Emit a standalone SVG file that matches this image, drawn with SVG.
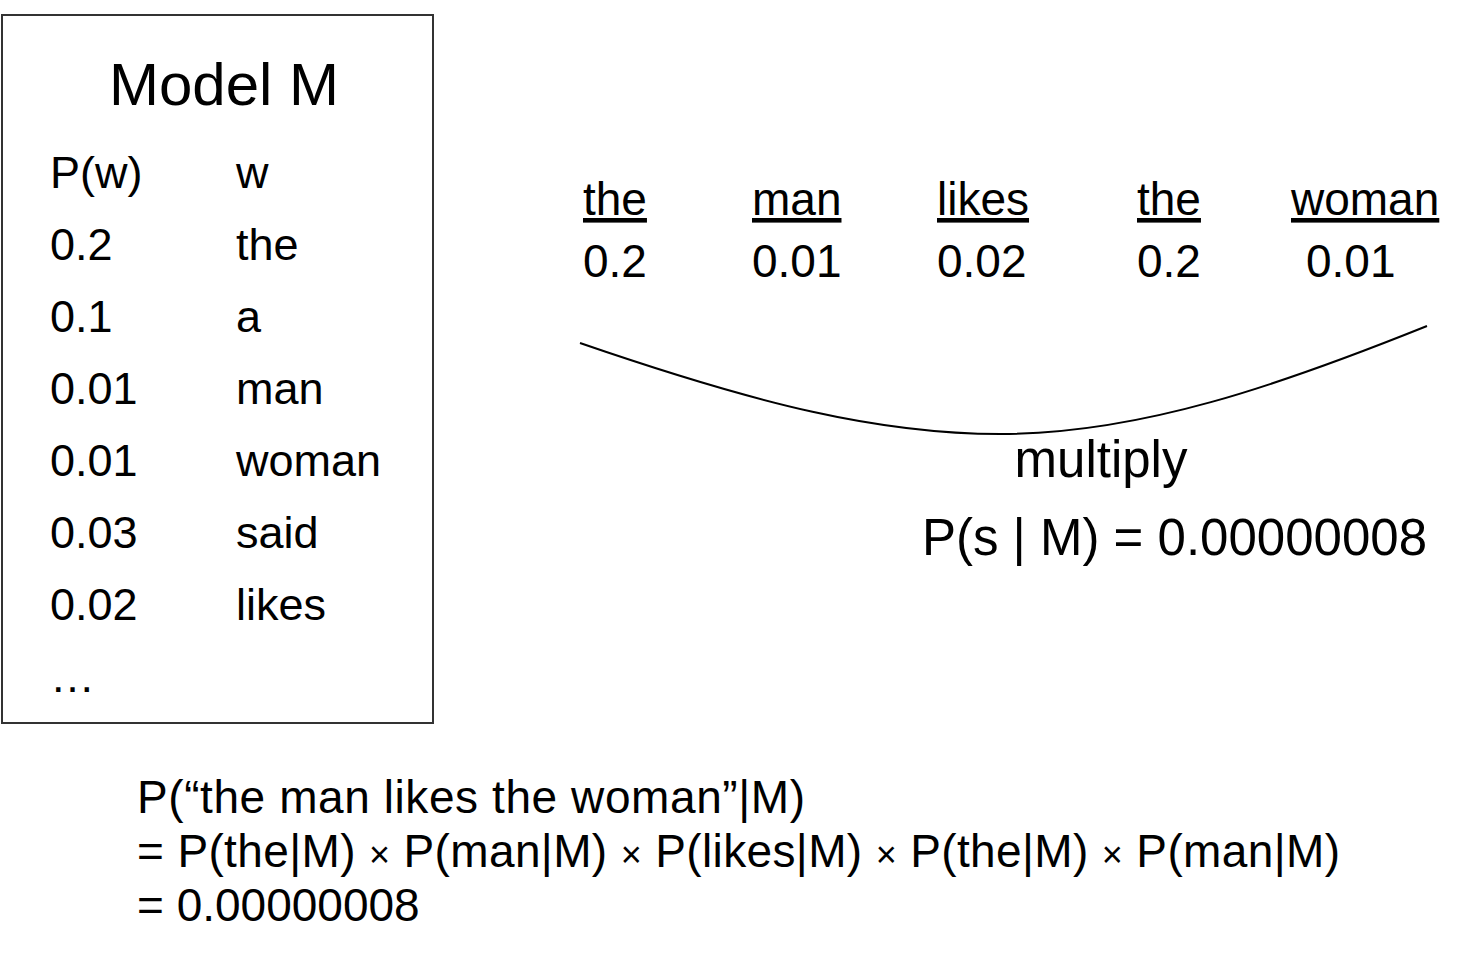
<svg xmlns="http://www.w3.org/2000/svg" width="1482" height="960" viewBox="0 0 1482 960">
<style>
text{font-family:"Liberation Sans",Arial,sans-serif;fill:#000}
.t{font-size:45px}
.w{font-size:46px}
.big{font-size:51px}
.u{text-decoration:underline}
.x{font-size:36px}
</style>
<rect width="1482" height="960" fill="#fff"/>
<g id="model">
<rect x="2" y="15" width="431" height="708" fill="none" stroke="#333" stroke-width="2"/>
<text x="224" y="105" font-size="60" text-anchor="middle">Model M</text>
<text class="t" x="50" y="188">P(w)</text><text class="t" x="236" y="188">w</text>
<text class="t" x="50" y="260">0.2</text><text class="t" x="236" y="260">the</text>
<text class="t" x="50" y="332">0.1</text><text class="t" x="236" y="332">a</text>
<text class="t" x="50" y="404">0.01</text><text class="t" x="236" y="404">man</text>
<text class="t" x="50" y="476">0.01</text><text class="t" x="236" y="476">woman</text>
<text class="t" x="50" y="548">0.03</text><text class="t" x="236" y="548">said</text>
<text class="t" x="50" y="620">0.02</text><text class="t" x="236" y="620">likes</text>
<text class="t" x="50" y="692">…</text>
</g>
<g id="sentence">
<text class="w u" x="583" y="215">the</text>
<text class="w u" x="752" y="215">man</text>
<text class="w u" x="937" y="215">likes</text>
<text class="w u" x="1137" y="215">the</text>
<text class="w u" x="1291" y="215">woman</text>
<text class="w" x="583" y="277">0.2</text>
<text class="w" x="752" y="277">0.01</text>
<text class="w" x="937" y="277">0.02</text>
<text class="w" x="1137" y="277">0.2</text>
<text class="w" x="1306" y="277">0.01</text>
</g>
<g id="connectors">
<path d="M580,343 C760,405 880,434 1000,434 C1140,434 1280,385 1427,326" fill="none" stroke="#000" stroke-width="2"/>
</g>
<g id="result">
<text class="big" x="1101" y="477" text-anchor="middle">multiply</text>
<text class="big" x="1427" y="555" text-anchor="end">P(s | M) = 0.00000008</text>
</g>
<g id="formula">
<text class="w" x="137" y="813" textLength="668" lengthAdjust="spacing">P(“the man likes the woman”|M)</text>
<text class="w" x="137" y="867" textLength="1203" lengthAdjust="spacing">= P(the|M) <tspan class="x">×</tspan> P(man|M) <tspan class="x">×</tspan> P(likes|M) <tspan class="x">×</tspan> P(the|M) <tspan class="x">×</tspan> P(man|M)</text>
<text class="w" x="137" y="921">= 0.00000008</text>
</g>
</svg>
